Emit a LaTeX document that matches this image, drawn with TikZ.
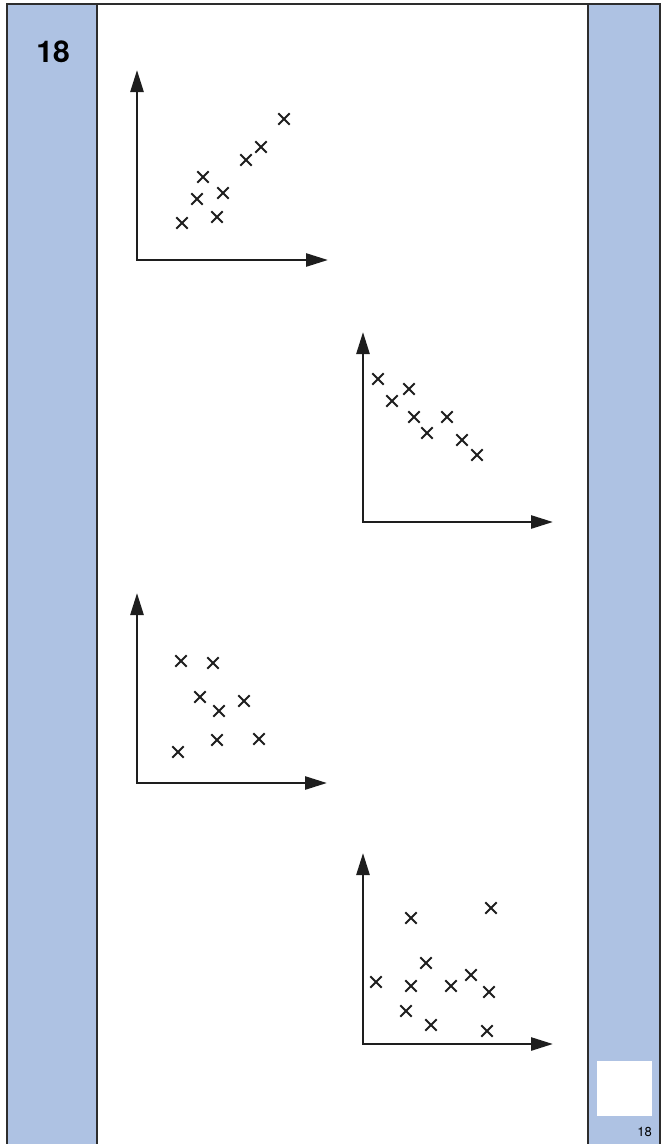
\documentclass[tikz,border=0pt]{standalone}
\usepackage{fontspec}
\setmainfont{TeX Gyre Heros}
\usetikzlibrary{arrows.meta,shapes.misc}
\definecolor{panelblue}{RGB}{174,194,227}
\definecolor{framegray}{RGB}{45,45,45}
\definecolor{inkblack}{RGB}{30,30,30}
\tikzset{
  framerule/.style={draw=framegray,line width=2pt},
  axesline/.style={draw=inkblack,line width=2.6pt,line join=miter,
    {Triangle[length=22pt,width=13pt]}-{Triangle[length=22pt,width=13pt]}},
  crossmark/.style={cross out,draw=inkblack,line width=1.8pt,minimum size=9.5pt,inner sep=0pt},
}
\begin{document}
\begin{tikzpicture}[x=1pt,y=-1pt]
\useasboundingbox (0,0) rectangle (661,1144);
% columns
\fill[panelblue] (7,4) rectangle (97,1150);
\fill[panelblue] (588,4) rectangle (660,1150);
\fill[white] (597,1061) rectangle (652,1116);
\draw[framerule] (7,1150) -- (7,4) -- (660,4) -- (660,1150);
\draw[framerule] (97,4) -- (97,1150);
\draw[framerule] (588,4) -- (588,1150);
\node[anchor=base,font=\bfseries\fontsize{30}{30}\selectfont,inner sep=0pt] (qnum) at (53,62) {18};
\node[anchor=base east,font=\fontsize{13}{13}\selectfont,inner sep=0pt] (pnum) at (652,1136) {18};
% plot 1
\coordinate (a1y) at (137,70); \coordinate (a1o) at (137,260); \coordinate (a1x) at (328,260);
\draw[axesline] (a1y) -- (a1o) -- (a1x);
\foreach \px/\py [count=\i] in {284/119,261/147,246/160,203/177,223/193,197/199,217/217,182/223}
  \node[crossmark] (p1c\i) at (\px,\py) {};
% plot 2
\coordinate (a2y) at (363,332); \coordinate (a2o) at (363,522); \coordinate (a2x) at (553,522);
\draw[axesline] (a2y) -- (a2o) -- (a2x);
\foreach \px/\py [count=\i] in {378/379,392/401,409/389,414/417,427/433,447/417,462/440,477/455}
  \node[crossmark] (p2c\i) at (\px,\py) {};
% plot 3
\coordinate (a3y) at (137,593); \coordinate (a3o) at (137,783); \coordinate (a3x) at (327,783);
\draw[axesline] (a3y) -- (a3o) -- (a3x);
\foreach \px/\py [count=\i] in {181/661,213/663,200/697,219/711,244/701,217/740,259/739,178/752}
  \node[crossmark] (p3c\i) at (\px,\py) {};
% plot 4
\coordinate (a4y) at (363,853); \coordinate (a4o) at (363,1044); \coordinate (a4x) at (553,1044);
\draw[axesline] (a4y) -- (a4o) -- (a4x);
\foreach \px/\py [count=\i] in {411/918,491/908,426/963,376/982,411/986,451/986,471/975,489/992,406/1011,431/1025,487/1031}
  \node[crossmark] (p4c\i) at (\px,\py) {};
\end{tikzpicture}
\end{document}
